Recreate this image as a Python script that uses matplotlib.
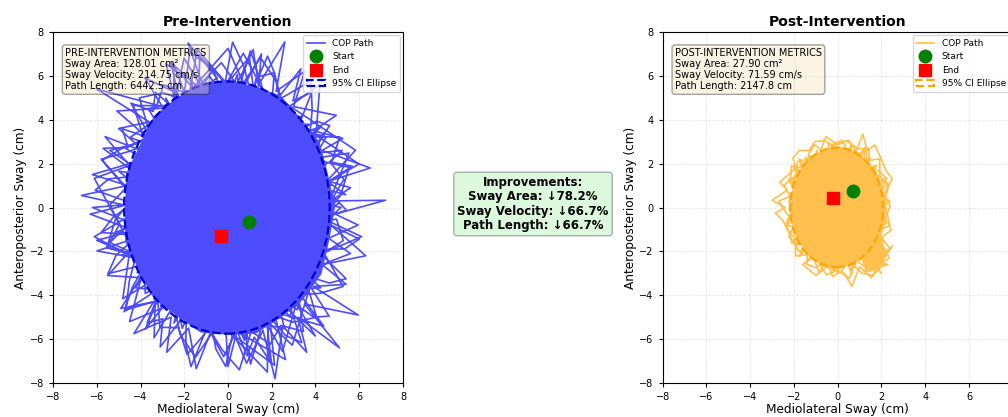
import matplotlib
matplotlib.use("Agg")
import matplotlib.pyplot as plt
from matplotlib.patches import Ellipse

# ---- data ------------------------------------------------------------------
pre_start = (0.95, -0.65)
pre_end = (-0.30, -1.30)
post_start = (0.70, 0.75)
post_end = (-0.20, 0.45)

# COP path vertices, pre-intervention (crossings of the sway area)
pre_x = [3.87, -4.51, 3.89, 1.03, -2.62, 2.48, -2.84, -1.37, 2.63, -0.41,
         -2.72, 4.24, -2.70, -1.53, 3.08, -0.72, 0.00, 2.93, -3.74, 2.84,
         3.86, -5.99, 3.56, 4.21, -4.99, 1.76, 3.66, -4.15, 3.17, 5.53,
         -4.49, 4.07, -2.47, -3.06, 5.99, 0.41, -0.37, 4.48, 0.92, -2.57,
         4.72, -1.07, 1.03, 3.95, 0.00, -2.47, 2.57, -6.11, 1.59, 0.37,
         -4.69, 3.20, -0.78, -3.93, 2.38, 0.98, -4.54, 4.26, -0.86, -3.76,
         3.99, -2.33, -0.74, 5.17, -3.20, -3.15, 3.39, -4.07, -4.81, 4.40,
         -3.80, -2.09, 2.00, -6.11, -2.99, 3.98, -5.09, 3.05, 1.53, -3.39,
         1.75, -2.49, -2.28, 1.12, 0.43, -3.00, 4.38, -2.99, -2.12, 2.59,
         0.00, -0.78, 3.67, -3.17, 2.49, 4.54, -4.31, 3.17, 3.98, -5.62,
         1.70, 3.83, -4.86, 2.27, 4.40, -4.51, 3.58, -2.01, -3.95, 4.31,
         1.28, -1.04, 5.83, 1.97, -2.99, 5.10, -0.31, 0.00, 4.51, 0.72,
         -3.78, 3.49, -4.32, 0.86, 1.04, -5.08, 3.81, 0.00, -3.65, 1.49,
         1.45, -4.63, 3.95, 0.00, -3.95, 2.16, -1.69, -1.45, 6.11, -3.81,
         -3.47, 4.24, -3.32, -4.05, 4.77, -3.10, -3.38, 2.85, -4.07, -3.78,
         3.94, -6.20, 3.50, 2.12, -4.24, 0.92, -1.16, -3.08, 0.36, 1.53,
         -3.90, 2.55, -2.40, -2.57, 2.13, 0.81, -1.45, 4.40, -2.27, 1.16,
         4.77, -4.12, 2.94, 4.40, -3.54, 0.75, 3.90, -6.00, 2.33, 4.23,
         -4.48]
pre_y = [2.76, -2.02, -1.74, 7.14, -4.61, -4.37, 4.99, -4.63, -6.93, 5.72,
         -4.00, -3.66, 2.80, -5.18, -4.53, 5.02, -7.25, 4.31, 2.67, -4.99,
         1.28, -1.98, -3.69, 0.45, 1.65, -3.77, 3.16, -2.96, -3.28, 2.48,
         0.98, -1.82, 5.27, -3.17, 1.98, 5.72, -5.20, 3.19, 4.20, -4.51,
         1.03, 4.93, -7.14, 2.81, 5.34, -5.27, 3.77, -1.33, -5.40, 5.20,
         2.70, -1.84, 5.42, 3.40, -4.18, 6.85, 0.49, -0.93, 6.00, 1.68,
         -5.86, 4.97, -5.14, 0.00, 1.84, -3.90, 4.18, 0.89, -4.16, 1.46,
         2.55, -5.51, 4.27, 1.33, -4.40, 1.78, -1.11, -2.18, 5.18, -4.18,
         -4.62, 6.56, -4.87, -5.15, 6.07, -3.30, -5.41, 4.40, -4.52, -5.52,
         4.35, -5.42, 3.80, 3.28, -6.56, 0.49, -0.46, -4.66, -0.43, 3.23,
         -5.35, 2.21, -2.18, -3.33, 0.96, 2.02, -2.55, 6.81, -2.81, 0.46,
         5.88, -4.76, 2.61, 5.20, -3.69, 0.20, 4.34, -5.51, 2.02, 5.02,
         -5.55, 3.62, 0.00, -6.00, 4.76, 4.40, -3.30, 5.22, 4.51, -3.94,
         5.25, 1.53, -1.60, 7.25, 2.81, -4.62, 5.72, -4.55, -1.33, 3.30,
         -3.00, 3.66, 1.49, -2.33, 0.51, 3.40, -5.94, 4.40, 1.82, -3.92,
         0.86, 0.00, -3.80, 4.52, -3.66, -4.20, 5.32, -4.53, -5.09, 7.00,
         -2.95, -4.30, 5.35, -3.77, -7.19, 5.65, -4.91, 3.30, 3.33, -5.32,
         -0.51, 0.44, -6.28, -1.46, 3.06, -6.05, 1.15, -1.50, -4.97, 0.00,
         3.19]

# jagged excursions around the edge, pre-intervention (four passes)
pre_edge_x = [-0.5, -1.83, -1.2, -0.3, 0.4, 1.15, 1.4, 2.6, 2.2, 3.5, 3.0, 4.95,
              3.9, 5.25, 4.3, 6.5, 4.6, 5.6, 4.7, 7.2, 4.9, 5.95, 4.6, 5.6, 4.3,
              5.4, 3.9, 5.95, 3.5, 5.1, 3.2, 3.6, 2.5, 2.15, 1.6, 0.85, 0.3,
              -0.2, -0.8, -1.45, -1.8, -2.8, -2.6, -4.3, -3.4, -4.9, -4.0, -5.5,
              -4.5, -5.4, -4.7, -6.3, -4.7, -6.7, -4.6, -6.2, -4.5, -5.4, -4.2,
              -5.0, -3.6, -6.0, -3.0, -3.8, -2.3, -2.6, -1.5]
pre_edge_y = [5.9, 7.5, 5.7, 6.6, 5.6, 7.2, 5.6, 7.55, 5.3, 6.2, 4.6, 4.2,
              3.5, 3.15, 2.6, 1.8, 1.2, 0.9, 0.3, 0.33, -0.3, -0.8, -1.4, -2.1,
              -2.6, -3.5, -3.6, -4.9, -4.4, -6.4, -5.0, -6.6, -5.4, -7.8, -5.6,
              -7.1, -5.8, -6.8, -5.7, -7.35, -5.5, -6.6, -5.0, -5.75, -4.3, -4.6,
              -3.2, -3.1, -2.0, -1.6, -0.9, -0.3, 0.1, 0.55, 1.0, 1.5, 2.0, 2.6,
              2.9, 3.6, 3.9, 5.4, 4.6, 5.9, 5.2, 6.6, 5.6]
pre_edge2_x = [5.38, 4.17, 5.68, 4.64, 5.22, 3.74, 4.65, 4.07, 3.14, 3.83,
               2.97, 3.33, 1.99, 2.12, 1.81, 1.05, 0.73, 0.21, -0.22, -0.72,
               -1.29, -1.35, -2.06, -2.83, -2.30, -3.32, -3.42, -4.44, -3.50, -4.84,
               -4.56, -5.71, -4.07, -5.44, -6.07, -4.37, -5.25, -5.80, -4.10, -5.11,
               -5.49, -3.78, -4.37, -4.75, -3.04, -3.70, -2.98, -3.10, -1.90, -1.93,
               -1.69, -0.81, -0.55, -0.10, 0.30, 0.87, 1.20, 1.99, 1.72, 2.62,
               3.37, 2.72, 3.92, 4.62, 3.42, 4.63, 5.40, 4.04, 5.33, 6.00,
               4.20, 5.41]
pre_edge2_y = [0.58, 0.91, 1.88, 2.08, 2.60, 2.45, 3.73, 3.93, 3.49, 5.26,
               4.86, 6.32, 4.61, 6.14, 6.90, 5.18, 6.43, 7.54, 5.21, 6.31,
               6.89, 5.13, 5.98, 6.55, 4.37, 5.26, 4.38, 4.76, 3.14, 3.59,
               2.74, 2.70, 1.44, 1.31, 0.79, 0.19, -0.45, -1.14, -1.26, -2.17,
               -3.02, -2.59, -3.63, -4.75, -3.63, -5.26, -5.07, -6.36, -4.79, -6.22,
               -7.25, -5.12, -6.46, -7.25, -5.33, -6.76, -5.91, -7.12, -4.77, -5.83,
               -6.16, -4.15, -5.00, -4.95, -3.07, -3.44, -3.25, -1.91, -1.89, -1.44,
               -0.55, -0.12]
pre_edge3_x = [0.37, 1.49, 2.19, 2.48, 4.2, 4.04, 3.83, 5.54, 5.15, 4.31, 6.3,
               4.47, 3.47, 4.05, 2.97, 1.83, 1.8, 0.43, -0.37, -1.49, -2.19, -2.48,
               -4.5, -4.04, -3.83, -5.54, -5.15, -4.31, -5.8, -4.47, -3.47, -4.05,
               -2.97, -1.83, -1.4, -0.43]
pre_edge3_y = [5.20, 6.83, 5.78, 4.37, 5.6, 3.50, 2.21, 1.83, 0.55, -0.46, -2.2,
               -2.57, -3.00, -5.00, -5.23, -4.83, -7.5, -6.07, -5.20, -6.83, -5.78,
               -4.37, -5.2, -3.50, -2.21, -1.83, -0.55, 0.46, 2.2, 2.57, 3.00, 5.00,
               5.23, 4.83, 7.2, 6.07]
pre_edge4_x = [4.70, 5.30, 4.72, 5.11, 3.73, 3.85, 3.79, 2.42, 2.12, 1.29,
               0.70, -0.08, -0.82, -1.75, -1.99, -2.94, -3.26, -4.33, -3.82, -4.77,
               -5.75, -4.64, -5.41, -4.95, -5.54, -4.20, -4.51, -4.67, -3.21, -3.11,
               -2.26, -1.87, -0.87, -0.27, 0.52, 1.06, 1.93, 2.42, 3.45, 3.22,
               4.21, 5.26, 4.39, 5.27, 4.96]
pre_edge4_y = [0.30, 1.28, 2.00, 3.21, 3.23, 4.44, 5.77, 4.97, 6.14, 5.94,
               7.03, 5.63, 6.42, 7.09, 5.25, 5.59, 4.64, 4.65, 3.07, 2.74,
               2.16, 0.91, 0.12, -0.75, -1.83, -2.20, -3.35, -4.67, -4.24, -5.46,
               -5.48, -6.70, -5.53, -6.48, -7.40, -5.65, -6.23, -5.37, -5.65, -3.98,
               -3.91, -3.60, -2.08, -1.51, -0.53]

# outline of the saturated core that the path fills, pre-intervention
pre_core_x = [4.89, 4.57, 4.19, 3.31, 2.40, 1.20, 0.00, -1.25, -2.34, -3.38,
              -4.02, -4.66, -4.70, -4.70, -4.06, -3.38, -2.32, -1.25, 0.00, 1.27,
              2.36, 3.41, 4.27, 4.62]
pre_core_y = [0.00, 1.52, 2.98, 4.08, 5.11, 5.52, 5.75, 5.70, 5.00, 4.18,
              2.86, 1.55, 0.00, -1.56, -2.89, -4.18, -4.95, -5.70, -5.80, -5.75,
              -5.06, -4.22, -3.04, -1.53]

# COP path vertices, post-intervention
post_x = [-0.34, -0.20, 1.50, -2.14, 1.19, -0.15, -2.11, 0.85, -0.96, -1.17,
          2.24, -2.02, 1.72, -1.49, 1.14, 1.73, -1.80, -0.85, 1.80, -1.49,
          1.90, -1.00, 0.78, -0.16, -1.75, 1.60, -1.22, 0.60, 1.93, -1.29,
          1.05, 1.24, -1.71, 1.56, -2.29, 1.53, -1.60, -1.10, 2.32, 0.36,
          -1.32, 1.78, -1.81, 1.45, -0.92, 0.64, 1.19, -1.10, 1.95, -0.85,
          -2.25, 1.29, -1.75, -0.72, 1.22, -1.90, 1.88, -1.95, 1.50, 1.30,
          -1.80, 0.00, 1.49, -1.28, 2.18, -1.40, 1.59, -0.88, -0.73, 1.17,
          -1.85, 1.29, 1.82, -2.02, 1.71, 0.30, -1.33, 1.41, -1.95, 1.72,
          -2.24, -0.65, 1.32, -0.40, -1.00, 1.13, -1.82, 2.14, -1.60, 0.98,
          0.60, -0.69, 2.20, -1.29, -2.39, 1.89, -1.56, 0.00, 0.85, -1.29]
post_y = [2.52, -2.88, 1.34, -1.59, -2.18, 2.19, 1.25, -2.32, 2.61, -1.79,
          1.33, -0.69, 0.00, 2.28, -2.09, 1.86, -0.41, -2.97, 1.34, -1.10,
          -1.71, 2.21, -2.71, 2.33, -2.23, 1.72, 1.55, -2.87, -0.66, 2.36,
          -1.91, 2.74, -1.53, 0.93, -0.52, -1.65, 2.04, -1.90, 1.08, 2.63,
          -1.42, 1.91, 1.08, -2.22, 2.02, -3.06, 2.18, -1.69, -1.60, 2.32,
          0.25, -1.65, 2.23, -2.50, 1.55, -1.71, 0.87, 1.45, -1.34, 2.70,
          -1.34, -2.20, 2.28, -1.96, -0.75, 1.50, -2.43, 2.42, -1.99, 2.57,
          1.00, -2.36, 0.20, 1.82, -1.53, 2.17, -2.43, 1.80, -1.45, -0.80,
          1.33, -2.55, 1.42, 2.93, -2.21, 2.50, 0.20, -1.59, 1.72, -1.80,
          2.87, -2.40, -0.60, 1.65, -0.82, -1.13, 0.93, -2.97, 2.32, -2.36]

post_edge_x = [-1.6, -1.0, -0.5, 0.3, 0.65, 1.0, 1.55, 1.9, 2.5, 2.2, 1.2, 2.3,
               1.4, 2.0, 1.3, 2.0, 2.25, 2.4, 2.1, 2.5, 2.2, 1.95, 1.7, 1.35,
               1.15, 0.9, 0.4, -0.2, -0.6, -1.05, -1.3, -1.75, -2.05, -1.9,
               -2.65, -2.3, -3.0, -2.4, -2.85, -2.5, -2.2, -2.1, -1.75]
post_edge_y = [-2.6, -3.1, -2.7, -3.0, -3.6, -2.7, -3.2, -2.5, -1.75, -2.2,
               -2.9, -2.6, -2.4, -3.0, -2.0, -1.2, -0.3, 0.05, 0.6, 1.3, 1.7,
               2.3, 2.85, 2.6, 3.35, 2.7, 3.05, 2.8, 3.05, 3.0, 2.6, 2.6, 2.25,
               1.8, 1.15, 0.8, 0.33, 0.0, -0.25, -0.6, -1.2, -1.5, -2.0]
post_edge2_x = [2.40, 1.87, 2.24, 1.87, 1.37, 1.45, 0.98, 0.52, 0.21, -0.20,
                -0.50, -1.05, -1.33, -1.40, -2.11, -2.15, -1.87, -2.68, -2.35, -1.91,
                -2.24, -1.87, -1.37, -1.41, -1.00, -0.52, -0.22, 0.20, 0.50, 1.09,
                1.6, 2.1, 1.5, 2.4, 1.79, 2.39, 2.25]
post_edge2_y = [0.27, 0.64, 1.33, 1.67, 1.75, 2.66, 2.69, 2.45, 3.07, 2.88,
                2.39, 2.86, 2.43, 1.78, 1.90, 1.28, 0.64, 0.30, -0.26, -0.65,
                -1.33, -1.67, -1.75, -2.59, -2.74, -2.45, -3.15, -2.88, -2.39, -2.99,
                -3.1, -2.6, -2.2, -1.9, -1.07, -0.82, -0.25]
post_edge3_x = [2.14, 2.33, 1.93, 1.92, 1.21, 0.87, 0.51, 0.00, -0.54, -0.84,
                -1.26, -1.82, -1.93, -2.45, -2.05, -2.14, -2.33, -1.93, -1.92, -1.21,
                -0.87, -0.51, 0.00, 0.54, 0.84, 1.50, 2.35, 1.93, 2.45, 2.05]
post_edge3_y = [0.29, 0.97, 1.44, 2.21, 2.13, 2.51, 3.07, 2.86, 3.23, 2.41,
                2.22, 2.10, 1.44, 1.02, 0.28, -0.29, -0.97, -1.44, -2.21, -2.13,
                -2.51, -3.07, -2.86, -3.23, -2.41, -2.90, -2.30, -1.44, -1.02, -0.28]

post_core_x = [2.22, 2.10, 1.89, 1.53, 1.09, 0.57, 0.00, -0.57, -1.09, -1.53,
               -1.89, -2.10, -2.22, -2.10, -1.89, -1.53, -1.09, -0.57, 0.00, 0.57,
               1.09, 1.30, 1.85, 2.30, 1.89, 2.10]
post_core_y = [0.00, 0.71, 1.41, 1.95, 2.39, 2.68, 2.80, 2.68, 2.39, 1.95,
               1.41, 0.71, 0.00, -0.71, -1.41, -1.95, -2.39, -2.68, -2.78, -2.65,
               -2.35, -2.95, -2.85, -2.10, -1.41, -0.71]

# 95% confidence ellipses (center, width, height)
pre_ellipse = ((-0.05, 0.0), 9.4, 11.5)
post_ellipse = ((-0.05, 0.0), 4.25, 5.45)

# summary metrics
pre_area, pre_vel, pre_len = 128.01, 214.75, 6442.5
post_area, post_vel, post_len = 27.90, 71.59, 2147.8

ticks = [-8, -6, -4, -2, 0, 2, 4, 6, 8]


def draw_panel(ax, start, chords, edges, end, core, color, ecolor, ell,
               title, metrics):
    px = [start[0]] + chords[0]
    py = [start[1]] + chords[1]
    for ex, ey in edges:
        px += ex
        py += ey
    px.append(end[0])
    py.append(end[1])
    # path colour is the alpha-0.7 tint, drawn opaque so overlaps stay flat
    ax.fill(core[0], core[1], color=color, lw=0, zorder=2)
    ax.plot(px, py, color=color, lw=1.2, label='COP Path', zorder=2)
    ax.plot(px[0], py[0], 'o', color='green', ms=9, label='Start', zorder=4)
    ax.plot(px[-1], py[-1], 's', color='red', ms=9, label='End', zorder=4)
    e = Ellipse(ell[0], ell[1], ell[2], fill=False, edgecolor=ecolor,
                linestyle='--', lw=1.6, label='95% CI Ellipse', zorder=3)
    ax.add_patch(e)
    ax.set_xlim(-8, 8)
    ax.set_ylim(-8, 8)
    ax.set_xticks(ticks)
    ax.set_yticks(ticks)
    ax.tick_params(labelsize=7, length=3)
    ax.grid(True, alpha=0.3, linestyle='--', lw=0.6)
    ax.set_title(title, fontsize=10, fontweight='bold', pad=4)
    ax.set_xlabel('Mediolateral Sway (cm)', fontsize=8.7, labelpad=1)
    ax.set_ylabel('Anteroposterior Sway (cm)', fontsize=8.7, labelpad=2)
    ax.legend(loc='upper right', fontsize=6.5, framealpha=0.8,
              borderaxespad=0.35, handlelength=2.0)
    ax.text(0.035, 0.955, metrics, transform=ax.transAxes, fontsize=7,
            va='top', ha='left', zorder=5, linespacing=1.15,
            bbox=dict(boxstyle='round', facecolor='wheat', alpha=0.35))


fig = plt.figure(figsize=(10.08, 4.17), dpi=100)
ax1 = fig.add_axes([53 / 1008, 34 / 417, 350 / 1008, 351 / 417])
ax2 = fig.add_axes([662.7 / 1008, 34 / 417, 350 / 1008, 351 / 417])

pre_text = ('PRE-INTERVENTION METRICS\n'
            f'Sway Area: {pre_area:.2f} cm²\n'
            f'Sway Velocity: {pre_vel:.2f} cm/s\n'
            f'Path Length: {pre_len:.1f} cm')
post_text = ('POST-INTERVENTION METRICS\n'
             f'Sway Area: {post_area:.2f} cm²\n'
             f'Sway Velocity: {post_vel:.2f} cm/s\n'
             f'Path Length: {post_len:.1f} cm')

draw_panel(ax1, pre_start, (pre_x, pre_y),
           [(pre_edge_x, pre_edge_y), (pre_edge2_x, pre_edge2_y),
            (pre_edge3_x, pre_edge3_y), (pre_edge4_x, pre_edge4_y)],
           pre_end, (pre_core_x, pre_core_y), '#4d4dff', 'mediumblue',
           pre_ellipse, 'Pre-Intervention', pre_text)
draw_panel(ax2, post_start, (post_x, post_y),
           [(post_edge_x, post_edge_y), (post_edge2_x, post_edge2_y),
            (post_edge3_x, post_edge3_y)],
           post_end, (post_core_x, post_core_y), '#ffc04d', 'orange',
           post_ellipse, 'Post-Intervention', post_text)

imp_area = (1 - post_area / pre_area) * 100
imp_vel = (1 - post_vel / pre_vel) * 100
imp_len = (1 - post_len / pre_len) * 100
imp_text = ('Improvements:\n'
            f'Sway Area: ↓{imp_area:.1f}%\n'
            f'Sway Velocity: ↓{imp_vel:.1f}%\n'
            f'Path Length: ↓{imp_len:.1f}%')
fig.text(533 / 1008, 1 - 204 / 417, imp_text, ha='center', va='center',
         fontsize=8.5, fontweight='bold', linespacing=1.15,
         bbox=dict(boxstyle='round', facecolor='lightgreen', alpha=0.3))

fig.savefig('out.png', dpi=100)
